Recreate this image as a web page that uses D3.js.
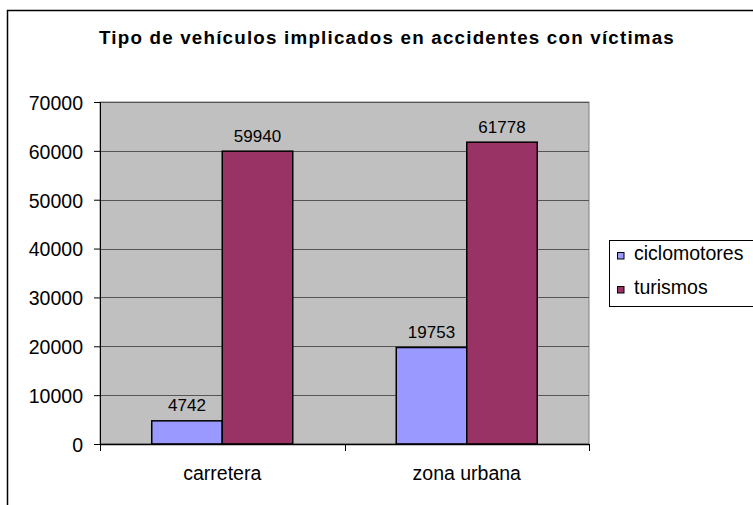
<!DOCTYPE html>
<html><head><meta charset="utf-8">
<script src="https://cdn.jsdelivr.net/npm/d3@7"></script>
<style>body{margin:0;background:#fff}svg{display:block}text{font-family:"Liberation Sans",Arial,sans-serif}</style>
</head><body><svg width="753" height="505"></svg>
<script>
const categories = ["carretera", "zona urbana"];
const seriesNames = ["ciclomotores", "turismos"];
const ciclomotores = [4742, 19753];
const turismos = [59940, 61778];
const yTicks = [0, 10000, 20000, 30000, 40000, 50000, 60000, 70000];
const colors = ["#9999FF", "#993366"];
const title = "Tipo de vehículos implicados en accidentes con víctimas";

const svg = d3.select("svg");
svg.append("rect").attr("x", 7.5).attr("y", 10.5).attr("width", 800).attr("height", 600)
  .attr("fill", "#fff").attr("stroke", "#000").attr("stroke-width", 1.5);

const L = 100, R = 589, T = 102, B = 444;
const x0 = d3.scaleBand().domain(categories).range([L, R]).paddingInner(0).paddingOuter(0);
const x1 = d3.scaleBand().domain(seriesNames).range([0, x0.bandwidth()]).paddingInner(0).paddingOuter(0.734);
const y = d3.scaleLinear().domain([0, 70000]).range([B, T]);

svg.append("rect").attr("x", L).attr("y", T).attr("width", R - L).attr("height", B - T)
  .attr("fill", "#C0C0C0").attr("stroke", "#808080").attr("stroke-width", 1);

svg.append("g").selectAll("line").data(yTicks.filter(d => d > 0)).join("line")
  .attr("x1", L).attr("x2", R).attr("y1", d => Math.round(y(d)) + 0.5).attr("y2", d => Math.round(y(d)) + 0.5)
  .attr("stroke", "#555").attr("stroke-width", 1);

const yAxis = d3.axisLeft(y).tickValues(yTicks).tickSize(6).tickPadding(11).tickFormat(d3.format("d"));
const gy = svg.append("g").attr("transform", `translate(${L},0)`).call(yAxis);
gy.select(".domain").attr("d", `M0.5,${T}V${B + 7}`).attr("stroke", "#000");
gy.selectAll(".tick line").attr("stroke", "#000");
gy.selectAll(".tick text").attr("font-size", 19.5).attr("fill", "#000").attr("dy", "0.38em")
  .attr("font-family", "Liberation Sans, Arial, sans-serif");

const data = categories.map((c, i) => ({ c, vals: [ciclomotores[i], turismos[i]] }));
const grp = svg.append("g").selectAll("g").data(data).join("g")
  .attr("transform", d => `translate(${x0(d.c)},0)`);
grp.selectAll("rect").data(d => d.vals.map((v, j) => ({ v, s: seriesNames[j], j }))).join("rect")
  .attr("x", d => x1(d.s)).attr("width", x1.bandwidth())
  .attr("y", d => y(d.v)).attr("height", d => B - y(d.v))
  .attr("fill", d => colors[d.j]).attr("stroke", "#000").attr("stroke-width", 1.5);
grp.selectAll("text").data(d => d.vals.map((v, j) => ({ v, s: seriesNames[j], j }))).join("text")
  .attr("x", d => x1(d.s) + x1.bandwidth() / 2).attr("y", d => y(d.v) - 9.5)
  .attr("text-anchor", "middle").attr("font-size", 17).attr("fill", "#000").text(d => d.v);

// x axis line + ticks
svg.append("line").attr("x1", L).attr("x2", R).attr("y1", B + 0.5).attr("y2", B + 0.5).attr("stroke", "#000").attr("stroke-width", 1.5);
const xb = [L, ...categories.map(c => x0(c) + x0.bandwidth())];
svg.append("g").selectAll("line").data(xb).join("line")
  .attr("x1", d => Math.round(d) + 0.5).attr("x2", d => Math.round(d) + 0.5).attr("y1", B).attr("y2", B + 7).attr("stroke", "#000");
svg.append("g").selectAll("text").data(categories).join("text")
  .attr("x", d => x0(d) + x0.bandwidth() / 2).attr("y", 480).attr("text-anchor", "middle")
  .attr("font-size", 19.5).attr("fill", "#000").text(d => d);

svg.append("text").attr("x", 387).attr("y", 43.5).attr("text-anchor", "middle")
  .attr("font-size", 18.8).attr("font-weight", "bold").attr("letter-spacing", "1.2px").attr("fill", "#000").text(title);

// legend
const lg = svg.append("g");
lg.append("rect").attr("x", 609.5).attr("y", 240.5).attr("width", 150).attr("height", 66)
  .attr("fill", "#fff").attr("stroke", "#000").attr("stroke-width", 1);
const li = lg.selectAll("g").data(seriesNames).join("g").attr("transform", (d, i) => `translate(0,${i * 34})`);
li.append("rect").attr("x", 617.5).attr("y", 252.5).attr("width", 6.5).attr("height", 6.5)
  .attr("fill", (d, i) => colors[i]).attr("stroke", "#000").attr("stroke-width", 1);
li.append("text").attr("x", 634).attr("y", 260).attr("font-size", 19.5).attr("fill", "#000").text(d => d);
</script></body></html>
